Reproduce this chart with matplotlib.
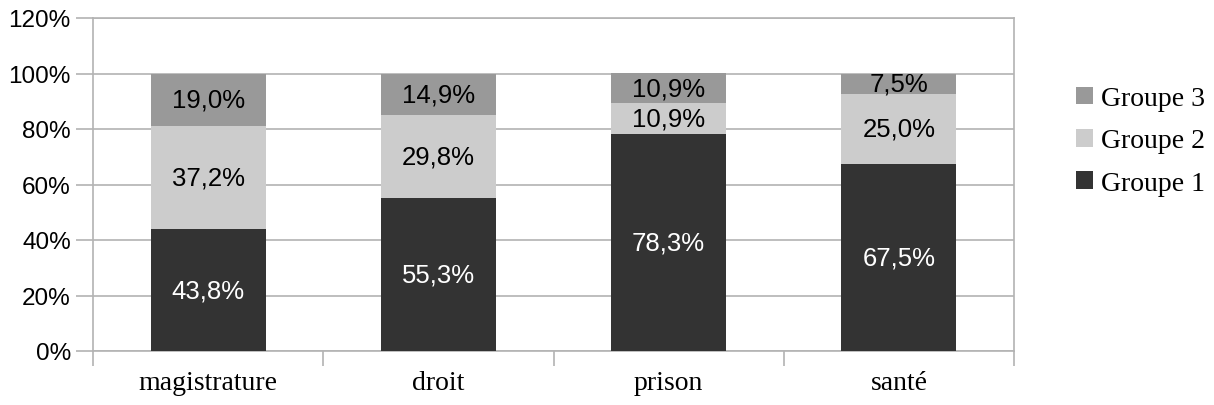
import matplotlib.pyplot as plt
import numpy as np

categories = ["magistrature", "droit", "prison", "santé"]
groupe1 = [43.8, 55.3, 78.3, 67.5]
groupe2 = [37.2, 29.8, 10.9, 25.0]
groupe3 = [19.0, 14.9, 10.9, 7.5]
series = [("Groupe 1", groupe1, "#333333", "white"),
          ("Groupe 2", groupe2, "#cccccc", "black"),
          ("Groupe 3", groupe3, "#999999", "black")]

fig = plt.figure(figsize=(12.14, 4.06), dpi=100)
ax = fig.add_axes([93 / 1214, 54 / 406, 921 / 1214, 333 / 406])

x = np.arange(len(categories))
bottom = np.zeros(len(categories))
handles = []
for name, vals, col, tcol in series:
    vals = np.array(vals)
    b = ax.bar(x, vals, 0.5, bottom=bottom, color=col, label=name, zorder=3)
    handles.append(b)
    for xi, v, bo in zip(x, vals, bottom):
        ax.text(xi, bo + v / 2, f"{v:.1f}%".replace(".", ","), ha="center", va="center",
                color=tcol, fontsize=18.5, family="Liberation Sans", zorder=4)
    bottom += vals

gc = "#b3b3b3"
ax.set_xlim(-0.5, len(categories) - 0.5)
ax.set_ylim(0, 120)
ax.set_yticks(range(0, 121, 20))
ax.set_yticklabels([f"{v}%" for v in range(0, 121, 20)], family="Liberation Sans", fontsize=17.5)
ax.yaxis.grid(True, color=gc, linewidth=1.2, zorder=0)
ax.tick_params(axis="y", length=12, color=gc, width=1.2, pad=4)

ax.set_xticks(x)
ax.set_xticklabels(categories, family="Liberation Serif", fontsize=20)
ax.set_xticks(np.arange(-0.5, len(categories)), minor=True)
ax.tick_params(axis="x", which="major", length=0, pad=14)
ax.tick_params(axis="x", which="minor", length=11, color=gc, width=1.2)

for s in ax.spines.values():
    s.set_color(gc)
    s.set_linewidth(1.2)

leg = fig.legend(handles[::-1], [h.get_label() for h in handles[::-1]],
                 loc="center left", bbox_to_anchor=(1076 / 1214, (406 - 142) / 406),
                 frameon=False, prop={"family": "Liberation Serif", "size": 20},
                 borderpad=0, borderaxespad=0,
                 handlelength=0.6, handleheight=0.6, handletextpad=0.3, labelspacing=0.62)

fig.savefig("out.png", dpi=100)
